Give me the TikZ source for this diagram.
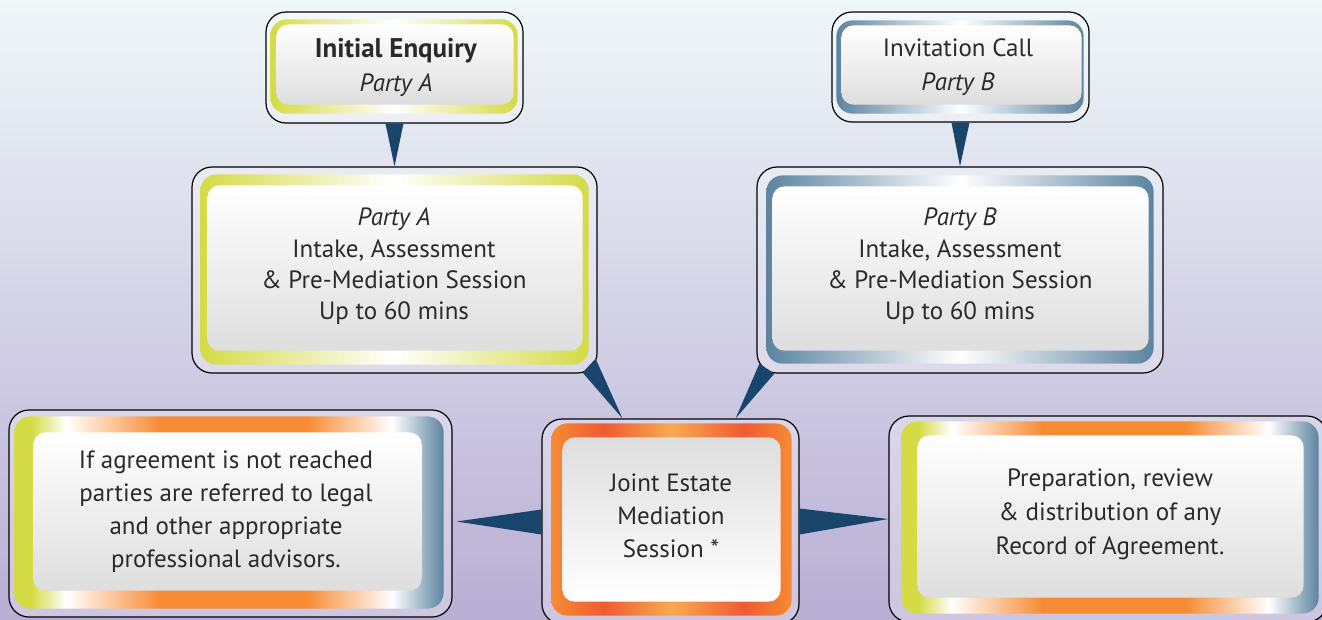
\documentclass[tikz,border=0pt]{standalone}
\usepackage{fontspec}
\setmainfont{PT Sans}

\definecolor{bgtop}{HTML}{EFF7F9}
\definecolor{bgbot}{HTML}{B9AED4}
\definecolor{fryel}{HTML}{D4DB45}
\definecolor{frblue}{HTML}{5C84A0}
\definecolor{frorange}{HTML}{F68B33}
\definecolor{frred}{HTML}{EF5B33}
\definecolor{frlight}{HTML}{F8AA4F}
\definecolor{ingrey}{HTML}{DEDEDE}
\definecolor{txtgrey}{HTML}{2A2A2A}
\definecolor{wedgeblue}{HTML}{19456D}

\pgfdeclarehorizontalshading{mixframe}{100bp}{color(0bp)=(fryel); color(25bp)=(fryel); color(27bp)=(fryel);
  color(31bp)=(white); color(42bp)=(frorange); color(59bp)=(frorange); color(69bp)=(white);
  color(75bp)=(frblue); color(100bp)=(frblue)}
\pgfdeclarehorizontalshading{jointframe}{100bp}{color(0bp)=(frorange); color(25bp)=(frorange);
  color(36bp)=(frred); color(50bp)=(frlight); color(65bp)=(frred); color(75bp)=(frorange);
  color(100bp)=(frorange)}

\begin{document}
\begin{tikzpicture}[x=1pt, y=-1pt]
\tikzset{ outerbox/.style={draw=black, line width=1.2pt, rounded corners=20pt, fill=white,
            fill opacity=0.3, inner sep=0pt},
  yelframe/.style={rounded corners=16pt, left color=fryel, right color=fryel, middle color=white},
  blueframe/.style={rounded corners=16pt, left color=frblue, right color=frblue, middle color=white},
  mixedframe/.style={rounded corners=16pt, shading=mixframe},
  orangeframe/.style={rounded corners=16pt, shading=jointframe},
  innerdown/.style={rounded corners=12pt, top color=white, bottom color=ingrey},
  innerup/.style={rounded corners=12pt, top color=ingrey, bottom color=white},
  boxtext/.style={align=center, text=txtgrey, inner sep=0pt, font=\fontsize{25}{#1}\selectfont},
  boxtext/.default=31.3,
  wedge/.style={fill=wedgeblue},
}
\useasboundingbox (0,0) rectangle (1322,619);
\clip (0,0) rectangle (1322,619);
\shade [top color=bgtop, bottom color=bgbot] (0,0) rectangle (1322,619);

% outer boxes
\node [outerbox, minimum width=257, minimum height=111] (enqA)  at (394.5,67.5) {};
\node [outerbox, minimum width=405, minimum height=206] (intA)  at (394.5,270)  {};
\node [outerbox, minimum width=257, minimum height=110] (callB) at (960.5,67)   {};
\node [outerbox, minimum width=406, minimum height=206] (intB)  at (960,270)    {};
\node [outerbox, minimum width=257, minimum height=205] (joint) at (670.5,521.5) {};
\node [outerbox, minimum width=443, minimum height=207] (adv)   at (230.5,513.5) {};
\node [outerbox, minimum width=438, minimum height=206] (rec)   at (1108,519)   {};

% frames
\shade [yelframe]    ([shift={(5,8)}]enqA.north west)   rectangle ([shift={(-6,-10)}]enqA.south east);
\shade [yelframe]    ([shift={(9,8)}]intA.north west)   rectangle ([shift={(-9,-9)}]intA.south east);
\shade [blueframe]   ([shift={(5,9)}]callB.north west)  rectangle ([shift={(-6,-9)}]callB.south east);
\shade [blueframe]   ([shift={(10,9)}]intB.north west)  rectangle ([shift={(-10,-10)}]intB.south east);
\shade [orangeframe] ([shift={(10,5)}]joint.north west) rectangle ([shift={(-8,-9)}]joint.south east);
\shade [mixedframe]  ([shift={(6,7)}]adv.north west)    rectangle ([shift={(-9,-9)}]adv.south east);
\shade [mixedframe]  ([shift={(13,6)}]rec.north west)   rectangle ([shift={(-9,-9)}]rec.south east);

% inner panels
\shade [innerdown] ([shift={(11,13)}]enqA.north west)  rectangle ([shift={(-10,-19)}]enqA.south east);
\shade [innerdown] ([shift={(16,19)}]intA.north west)  rectangle ([shift={(-15,-23)}]intA.south east);
\shade [innerdown] ([shift={(10,14)}]callB.north west) rectangle ([shift={(-8,-18)}]callB.south east);
\shade [innerdown] ([shift={(16,20)}]intB.north west)  rectangle ([shift={(-15,-23)}]intB.south east);
\shade [innerup]   ([shift={(21,19)}]joint.north west) rectangle ([shift={(-19,-23)}]joint.south east);
\shade [innerdown] ([shift={(25,23)}]adv.north west)   rectangle ([shift={(-31,-27)}]adv.south east);
\shade [innerdown] ([shift={(29,20)}]rec.north west)   rectangle ([shift={(-24,-25)}]rec.south east);

% texts
\node [boxtext=34] (enqAtxt)  at (396,67.5) {{\fontsize{27}{34}\selectfont\textbf{Initial Enquiry}}\\\textit{Party A}};
\node [boxtext=34] (callBtxt) at (958,67.5) {Invitation Call\\\textit{Party B}};
\node [boxtext] (intAtxt)  at (394,266.5) {\textit{Party A}\\Intake, Assessment\\\& Pre-Mediation Session\\Up to 60 mins};
\node [boxtext] (intBtxt)  at (960,266.5) {\textit{Party B}\\Intake, Assessment\\\& Pre-Mediation Session\\Up to 60 mins};
\node [boxtext=33] (jointtxt) at (671,516) {Joint Estate\\Mediation\\Session *};
\node [boxtext=33] (advtxt)   at (226,511.5) {If agreement is not reached\\parties are referred to legal\\and other appropriate\\professional advisors.};
\node [boxtext=34] (rectxt)   at (1110,514) {Preparation, review\\\& distribution of any\\Record of Agreement.};

% connectors
\coordinate (advtip) at ([xshift=4]adv.east);
\fill [wedge] ([xshift=-9]enqA.south) -- ([xshift=9]enqA.south) -- (intA.north) -- cycle;
\fill [wedge] ([xshift=-9]callB.south) -- ([xshift=9]callB.south) -- (intB.north) -- cycle;
\fill [wedge] ([shift={(-15,-1)}]intA.south east) -- ([shift={(-2,-15)}]intA.south east) -- ([xshift=81]joint.north west) -- cycle;
\fill [wedge] ([shift={(3,-10)}]intB.south west) -- ([shift={(18,0)}]intB.south west) -- ([xshift=-64]joint.north east) -- cycle;
\fill [wedge] ([yshift=12]joint.west) -- ([yshift=-13]joint.west) -- (advtip |- joint.west) -- cycle;
\fill [wedge] ([yshift=13]joint.east) -- ([yshift=-13]joint.east) -- (rec.west) -- cycle;

\end{tikzpicture}
\end{document}
